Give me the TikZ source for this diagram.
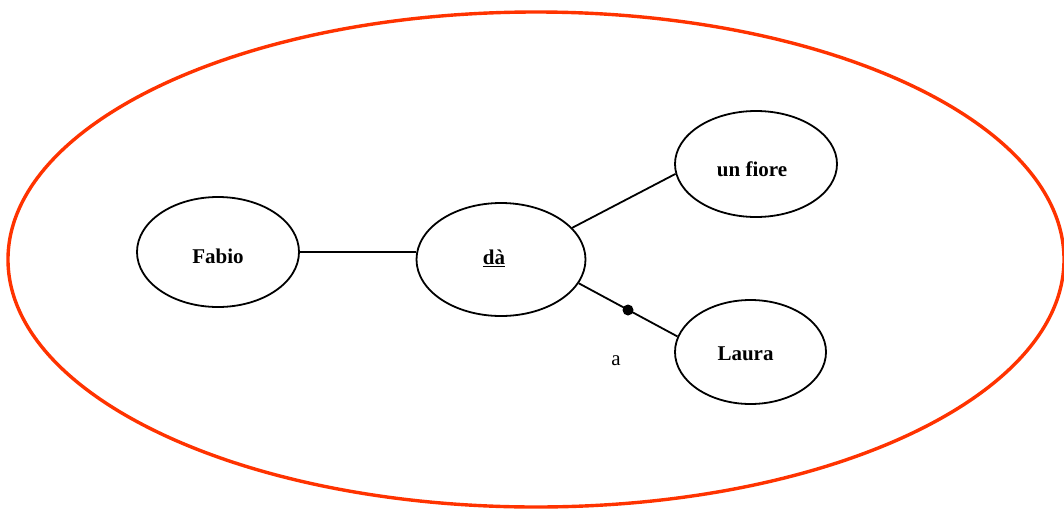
\documentclass[tikz,border=0pt]{standalone}
\usepackage{fontspec}
\setmainfont{Liberation Serif}
\usetikzlibrary{shapes.geometric}
\definecolor{framered}{HTML}{FF3300}
\begin{document}
\begin{tikzpicture}[x=1pt,y=-1pt,
  concept/.style={ellipse,draw=black,line width=1.8pt,inner sep=0pt},
  conceptText/.style={font=\fontsize{21}{25}\selectfont\bfseries,inner sep=0pt},
  link/.style={draw=black,line width=1.8pt}]
\useasboundingbox (0,0) rectangle (1064,509);
\node[ellipse,draw=framered,line width=3.4pt,minimum width=1056pt,minimum height=495pt,inner sep=0pt] (frame) at (536,259.5) {};
\node[concept,minimum width=162pt,minimum height=110pt,
  label={[conceptText,yshift=-4pt]center:Fabio}] (fabio) at (218,252) {};
\node[concept,minimum width=169pt,minimum height=113pt,
  label={[conceptText,xshift=-7pt,yshift=1pt]center:\underline{dà}}] (da) at (501,259.5) {};
\node[concept,minimum width=162pt,minimum height=106pt,
  label={[conceptText,xshift=-4pt,yshift=-5pt]center:un fiore}] (fiore) at (756,164) {};
\node[concept,minimum width=151pt,minimum height=104pt,
  label={[conceptText,xshift=-5pt,yshift=-2pt]center:Laura}] (laura) at (750.5,352) {};
\draw[link] (fabio.east) -- (da.west |- fabio.east);
\draw[link] (da.24.3) -- (fiore.187.9);
\draw[link] (da.-17.6) -- (laura.168.6);
\coordinate (dot) at (628,310);
\fill (dot) circle (5.5pt);
\node[font=\fontsize{21}{25}\selectfont] (alabel) at (616,361) {a};
\end{tikzpicture}
\end{document}
